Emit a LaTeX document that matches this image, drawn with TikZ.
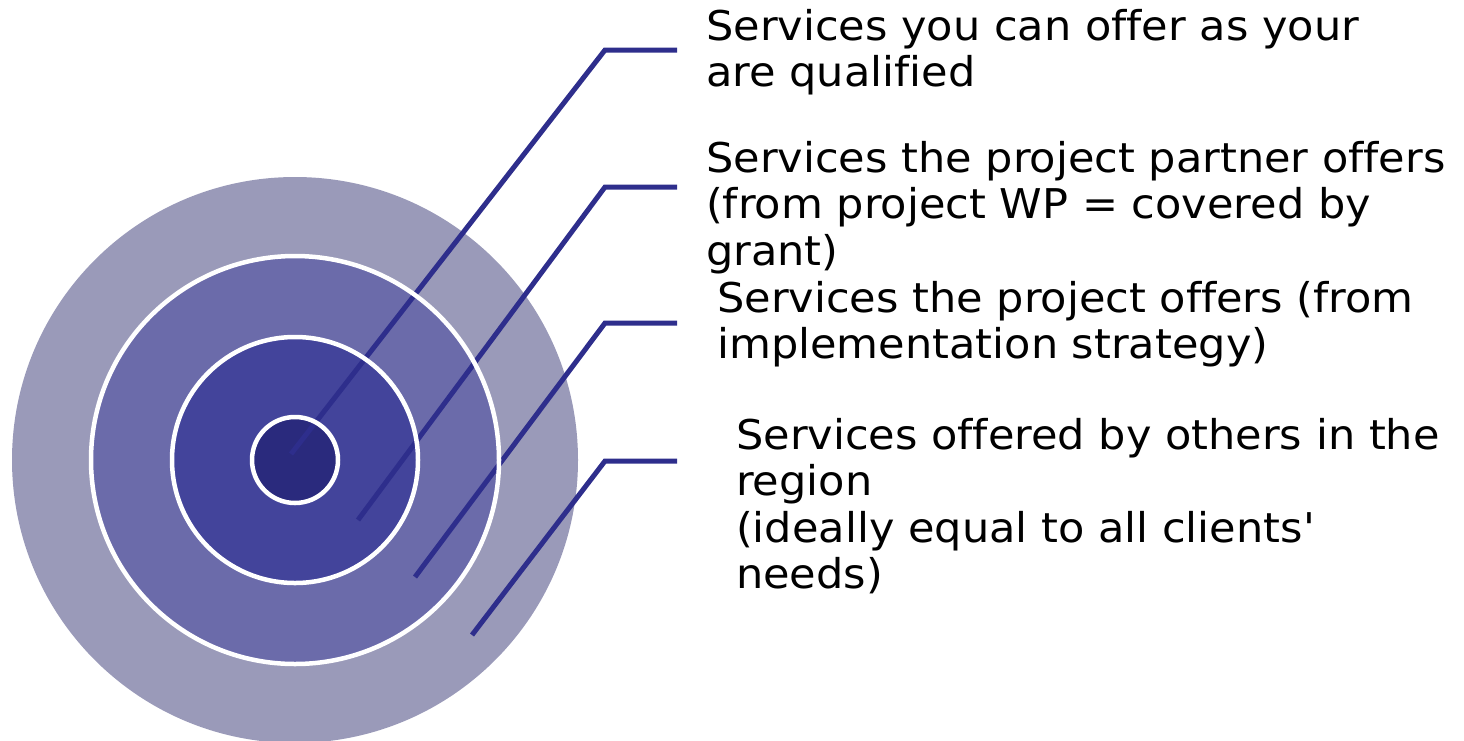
\documentclass[tikz,border=0pt]{standalone}
\usepackage{fontspec}
\setmainfont{DejaVu Sans}[FakeStretch=1.05, Ligatures={NoCommon}]
\definecolor{ringA}{RGB}{154,154,185}
\definecolor{ringB}{RGB}{107,107,170}
\definecolor{ringC}{RGB}{67,68,155}
\definecolor{ringD}{RGB}{42,42,125}
\definecolor{leadcol}{RGB}{46,46,140}
\tikzset{
  ringline/.style={draw=white, line width=4.5pt},
  leader/.style={draw=leadcol, line width=5pt, line join=miter},
  label/.style={anchor=base west, inner sep=0pt, font=\fontsize{41}{46.5}\selectfont}
}
\newcommand{\lbl}[1]{\begin{tabular}[t]{@{}l@{}}#1\end{tabular}}
\begin{document}
\begin{tikzpicture}[x=1pt,y=-1pt]
\useasboundingbox (0,0) rectangle (1464,740);
\clip (0,0) rectangle (1464,740);

% concentric discs
\coordinate (c) at (295,460);
\fill[ringA] (c) circle (283);
\fill[ringB] (c) circle (204);
\fill[ringC] (c) circle (123);
\fill[ringD] (c) circle (43);

% leader points: tip, knee, end
\coordinate (t1) at (291,454);  \coordinate (k1) at (605,50);  \coordinate (e1) at (677,50);
\coordinate (t2) at (358,520);  \coordinate (k2) at (605,187); \coordinate (e2) at (677,187);
\coordinate (t3) at (415,577);  \coordinate (k3) at (605,323); \coordinate (e3) at (677,323);
\coordinate (t4) at (472,635);  \coordinate (k4) at (605,461); \coordinate (e4) at (677,461);

\draw[leader] (t1) -- (k1) -- (e1);
\draw[leader] (t2) -- (k2) -- (e2);
\draw[leader] (t3) -- (k3) -- (e3);
\draw[leader] (t4) -- (k4) -- (e4);

% white separating rings
\draw[ringline] (c) circle (204);
\draw[ringline] (c) circle (123);
\draw[ringline] (c) circle (43);

% labels
\node[label] (l1) at (706,40)  {\lbl{Services you can offer as your\\are qualified}};
\node[label] (l2) at (706,172) {\lbl{Services the project partner offers\\(from project WP = covered by\\grant)}};
\node[label] (l3) at (717,312) {\lbl{Services the project offers (from\\implementation strategy)}};
\node[label] (l4) at (736,449) {\lbl{Services offered by others in the\\region\\(ideally equal to all clients\textquotesingle\\needs)}};
\end{tikzpicture}
\end{document}
